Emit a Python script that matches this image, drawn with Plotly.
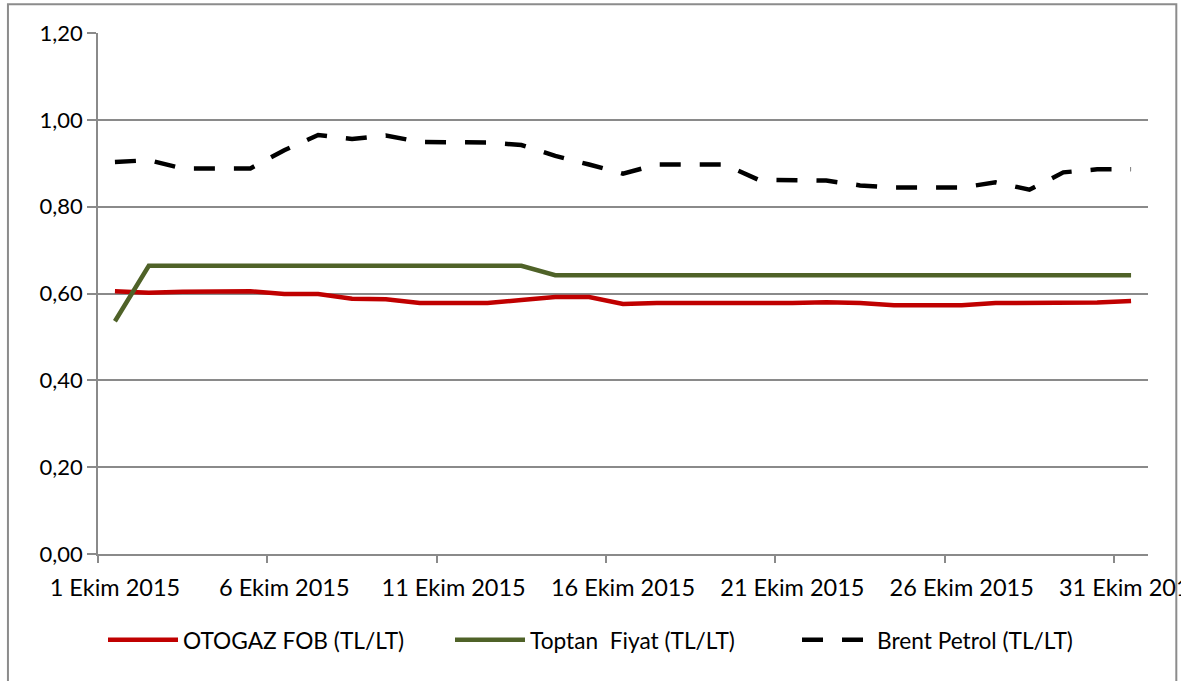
import plotly.graph_objects as go

days = list(range(1, 32))
tick_days = [1, 6, 11, 16, 21, 26, 31]
tick_labels = ["1 Ekim 2015", "6 Ekim 2015", "11 Ekim 2015", "16 Ekim 2015",
               "21 Ekim 2015", "26 Ekim 2015", "31 Ekim 2015"]
day_bounds = [0.5, 5.5, 10.5, 15.5, 20.5, 25.5, 30.5]

otogaz_fob = [0.605, 0.602, 0.604, 0.605, 0.605, 0.599, 0.599, 0.588, 0.587, 0.578,
              0.578, 0.578, 0.585, 0.592, 0.592, 0.576, 0.578, 0.578, 0.578, 0.576,
              0.578, 0.580, 0.578, 0.573, 0.573, 0.573, 0.578, 0.579, 0.579, 0.579,
              0.583]
toptan_fiyat = [0.536] + [0.664] * 12 + [0.642] * 18
brent_petrol = [0.903, 0.907, 0.888, 0.888, 0.888, 0.930, 0.965, 0.956, 0.964, 0.949,
                0.949, 0.948, 0.942, 0.917, 0.897, 0.876, 0.897, 0.897, 0.897, 0.862,
                0.862, 0.860, 0.849, 0.844, 0.844, 0.844, 0.856, 0.839, 0.879, 0.886,
                0.886]

FONT = "Lato"
GRID = "#8a8a8a"

fig = go.Figure()
fig.add_trace(go.Scatter(x=days, y=otogaz_fob, mode="lines", name="OTOGAZ FOB (TL/LT)",
                         line=dict(color="#C00000", width=4.5)))
fig.add_trace(go.Scatter(x=days, y=toptan_fiyat, mode="lines", name="Toptan  Fiyat (TL/LT)",
                         line=dict(color="#4F6228", width=4.5)))
fig.add_trace(go.Scatter(x=days, y=brent_petrol, mode="lines", name="Brent Petrol (TL/LT)",
                         line=dict(color="#000000", width=4.5, dash="21px,19px")))
# invisible trace to carry the secondary (tick-mark) axis
fig.add_trace(go.Scatter(x=days, y=brent_petrol, xaxis="x2", mode="lines", showlegend=False,
                         hoverinfo="skip", line=dict(width=0), opacity=0))

W, H = 1181, 681
L, R, T, B = 98.3, 1147.7, 33.3, 554.0
pw, ph = R - L, B - T

fig.update_layout(
    width=W, height=H,
    margin=dict(l=L, r=W - R, t=T, b=H - B, pad=0, autoexpand=False),
    paper_bgcolor="white", plot_bgcolor="white",
    separators=",.",
    font=dict(family=FONT, size=22, color="#000000"),
    showlegend=True,
    legend=dict(orientation="h", xref="container", yref="container",
                x=103 / W, xanchor="left", y=1 - 640 / H, yanchor="middle",
                font=dict(family=FONT, size=22.7, color="#000000"),
                bgcolor="rgba(0,0,0,0)", itemwidth=70, entrywidth=262,
                entrywidthmode="pixels", tracegroupgap=0),
    xaxis=dict(range=[0.5, 31.5], tickmode="array", tickvals=tick_days, ticktext=tick_labels,
               ticks="", showgrid=False, zeroline=False, showline=True, linecolor=GRID,
               linewidth=1.5, tickfont=dict(family=FONT, size=23.5, color="#000000"),
               ticklabelstandoff=12, ticklabeloverflow="allow", automargin=False),
    xaxis2=dict(range=[0.5, 31.5], overlaying="x", anchor="y", side="bottom",
                tickmode="array", tickvals=day_bounds, ticks="outside", ticklen=8,
                tickcolor=GRID, tickwidth=1.5, showticklabels=False, showgrid=False,
                zeroline=False, showline=False),
    yaxis=dict(range=[0, 1.2], tickmode="linear", tick0=0, dtick=0.2, tickformat=".2f",
               ticks="outside", ticklen=9, tickcolor=GRID, tickwidth=1.5,
               showgrid=True, gridcolor=GRID, gridwidth=1.5, zeroline=False,
               showline=True, linecolor=GRID, linewidth=1.5, automargin=False,
               tickfont=dict(family=FONT, size=22, color="#000000")),
    shapes=[dict(type="rect", xref="paper", yref="paper",
                 x0=(8.3 - L) / pw, x1=(1176 - L) / pw,
                 y0=(B - 720) / ph, y1=(B - 4.5) / ph,
                 line=dict(color="#8c8c8c", width=2), fillcolor="rgba(0,0,0,0)", layer="below")],
)

fig.write_html("out.html", config={"displayModeBar": False},
               post_script="document.body.style.margin='0px';")
